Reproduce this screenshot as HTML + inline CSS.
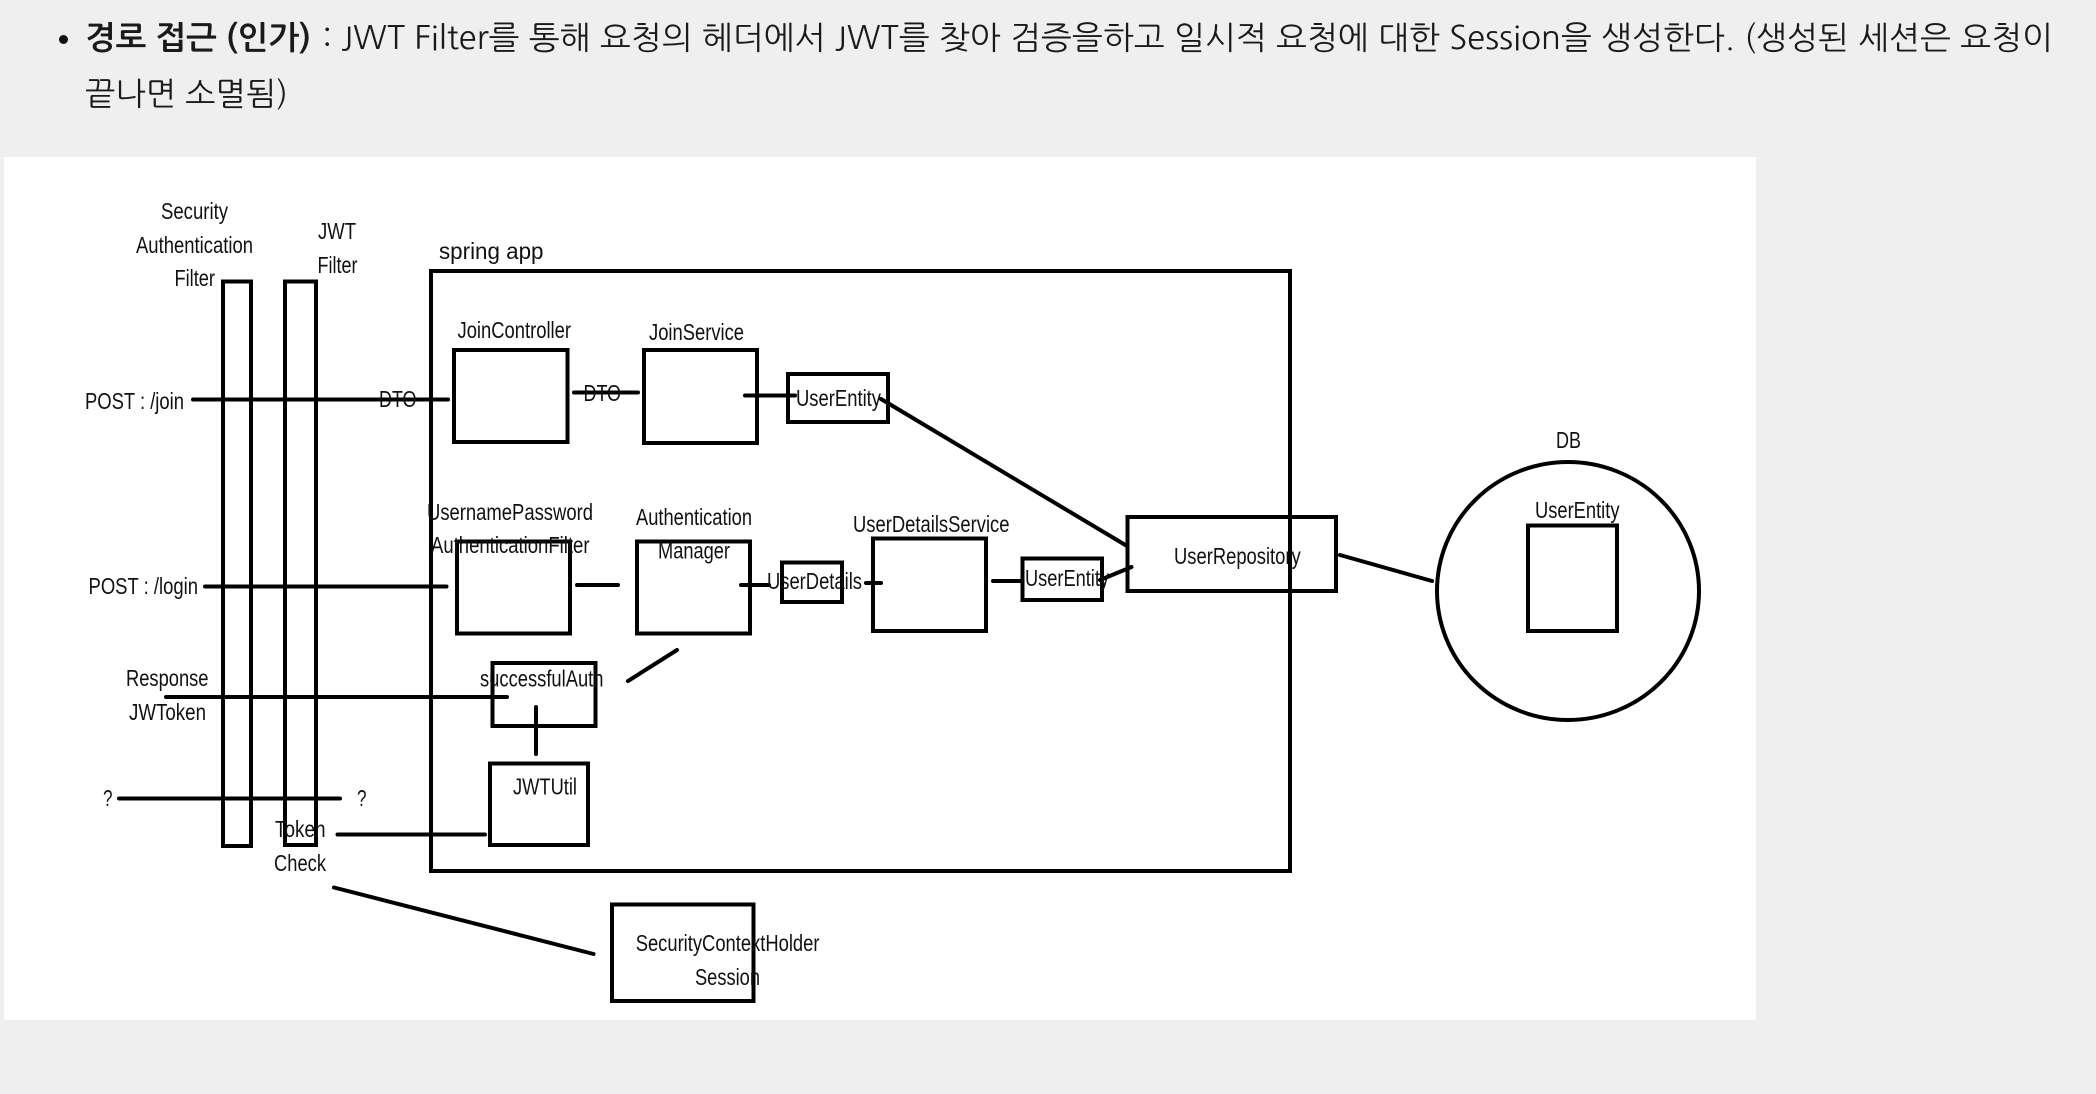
<!DOCTYPE html>
<html lang="ko"><head><meta charset="utf-8"><title>JWT</title>
<style>
html,body{margin:0;padding:0;background:#efefef;width:2096px;height:1094px;overflow:hidden}
svg{display:block;position:absolute;left:0;top:0}
.h{font-family:"NanumGothic","Noto Sans CJK KR",sans-serif;font-size:32px;fill:#1a1a1a}
.d text{font-family:"Liberation Sans",Arial,sans-serif;font-size:23px;fill:#111}
.d{filter:blur(0.35px)}
</style></head><body>
<svg width="2096" height="1094" viewBox="0 0 2096 1094" xmlns="http://www.w3.org/2000/svg">
<circle cx="63.5" cy="39.5" r="4.5" fill="#111"/>
<text class="h" x="85" y="49" font-weight="700" textLength="226" lengthAdjust="spacingAndGlyphs">경로 접근 (인가)</text>
<text class="h" x="322" y="49" textLength="1731" lengthAdjust="spacingAndGlyphs">: JWT Filter를 통해 요청의 헤더에서 JWT를 찾아 검증을하고 일시적 요청에 대한 Session을 생성한다. (생성된 세션은 요청이</text>
<text class="h" x="85" y="105" textLength="203" lengthAdjust="spacingAndGlyphs">끝나면 소멸됨)</text>
<rect x="4" y="157" width="1752" height="863" fill="#fff"/>
<g class="d">
<g fill="none" stroke="#000" stroke-width="4">
<rect x="223" y="281.5" width="28" height="564.5"/>
<rect x="285" y="281.5" width="31" height="563.5"/>
<rect x="431" y="271" width="859" height="600"/>
<rect x="454" y="350" width="113.5" height="92"/>
<rect x="644" y="350" width="113" height="93"/>
<rect x="788" y="374" width="100" height="48"/>
<rect x="457" y="541.5" width="113" height="92"/>
<rect x="637" y="541.5" width="113" height="92"/>
<rect x="782" y="562.5" width="60" height="39.5"/>
<rect x="873" y="538.5" width="113" height="92.5"/>
<rect x="1022.5" y="558.5" width="79.5" height="41.5"/>
<rect x="1127.5" y="517" width="208.5" height="74"/>
<rect x="492.5" y="663" width="103" height="63"/>
<rect x="490" y="763.5" width="98" height="81.5"/>
<rect x="612" y="904.5" width="141.5" height="96.5"/>
<rect x="1528" y="525.5" width="89" height="105.5"/>
<ellipse cx="1568" cy="591" rx="131" ry="129"/>
</g>
<g stroke="#000" stroke-width="4" stroke-linecap="round" fill="none">
<path d="M193 399.5H448"/>
<path d="M574 392.5H638"/>
<path d="M745 395.5H795"/>
<path d="M881 399L1127 546"/>
<path d="M205 586.5H446.5"/>
<path d="M577 585H618"/>
<path d="M741 585H769"/>
<path d="M866 583H881"/>
<path d="M993 581H1021"/>
<path d="M1100 580L1131.5 567"/>
<path d="M1340 555L1432 581"/>
<path d="M677 650L628 681"/>
<path d="M166 697H507"/>
<path d="M536 707V754"/>
<path d="M119 798.5H340"/>
<path d="M337.5 834.5H485"/>
<path d="M334 887.5L593.5 954"/>
</g>
<g transform="translate(0,1)">
<text x="161" y="218" textLength="67" lengthAdjust="spacingAndGlyphs">Security</text>
<text x="136" y="252" textLength="117" lengthAdjust="spacingAndGlyphs">Authentication</text>
<text x="174.5" y="285" textLength="40.5" lengthAdjust="spacingAndGlyphs">Filter</text>
<text x="318" y="238" textLength="38" lengthAdjust="spacingAndGlyphs">JWT</text>
<text x="317.5" y="272" textLength="40" lengthAdjust="spacingAndGlyphs">Filter</text>
<text x="439" y="258" textLength="104.5" lengthAdjust="spacingAndGlyphs">spring app</text>
<text x="457.5" y="337" textLength="113.5" lengthAdjust="spacingAndGlyphs">JoinController</text>
<text x="649" y="339" textLength="95" lengthAdjust="spacingAndGlyphs">JoinService</text>
<text x="85" y="408" textLength="99" lengthAdjust="spacingAndGlyphs">POST : /join</text>
<text x="379" y="406" textLength="37.5" lengthAdjust="spacingAndGlyphs">DTO</text>
<text x="583.5" y="400" textLength="37.5" lengthAdjust="spacingAndGlyphs">DTO</text>
<text x="796" y="405" textLength="85" lengthAdjust="spacingAndGlyphs">UserEntity</text>
<text x="427" y="519" textLength="166" lengthAdjust="spacingAndGlyphs">UsernamePassword</text>
<text x="636" y="524" textLength="116" lengthAdjust="spacingAndGlyphs">Authentication</text>
<text x="853" y="531" textLength="156.5" lengthAdjust="spacingAndGlyphs">UserDetailsService</text>
<text x="431" y="552" textLength="158.5" lengthAdjust="spacingAndGlyphs">AuthenticationFilter</text>
<text x="658" y="557.5" textLength="72" lengthAdjust="spacingAndGlyphs">Manager</text>
<text x="88.5" y="593" textLength="109.5" lengthAdjust="spacingAndGlyphs">POST : /login</text>
<text x="767" y="588" textLength="95" lengthAdjust="spacingAndGlyphs">UserDetails</text>
<text x="1025" y="585" textLength="84" lengthAdjust="spacingAndGlyphs">UserEntity</text>
<text x="1174" y="563" textLength="126.7" lengthAdjust="spacingAndGlyphs">UserRepository</text>
<text x="126" y="685" textLength="82.5" lengthAdjust="spacingAndGlyphs">Response</text>
<text x="129" y="719" textLength="77" lengthAdjust="spacingAndGlyphs">JWToken</text>
<text x="480" y="685.5" textLength="123.5" lengthAdjust="spacingAndGlyphs">successfulAuth</text>
<text x="513" y="793.5" textLength="64" lengthAdjust="spacingAndGlyphs">JWTUtil</text>
<text x="103" y="805" textLength="9.5" lengthAdjust="spacingAndGlyphs">?</text>
<text x="357" y="805" textLength="9.5" lengthAdjust="spacingAndGlyphs">?</text>
<text x="275" y="836" textLength="50.5" lengthAdjust="spacingAndGlyphs">Token</text>
<text x="274" y="870" textLength="52" lengthAdjust="spacingAndGlyphs">Check</text>
<text x="635.7" y="950" textLength="183.8" lengthAdjust="spacingAndGlyphs">SecurityContextHolder</text>
<text x="695" y="984" textLength="65" lengthAdjust="spacingAndGlyphs">Session</text>
<text x="1556" y="447" textLength="25" lengthAdjust="spacingAndGlyphs">DB</text>
<text x="1535" y="517" textLength="84.5" lengthAdjust="spacingAndGlyphs">UserEntity</text>
</g>
</g>
</svg>
</body></html>
